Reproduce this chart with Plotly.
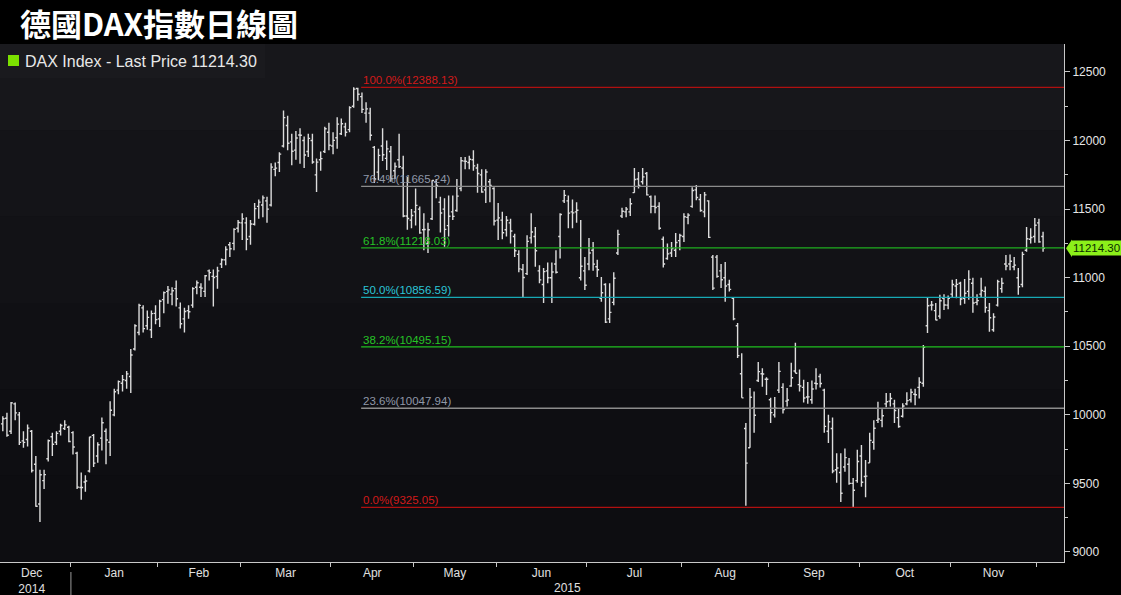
import plotly.graph_objects as go
import pandas as pd

# ---------------- DATA: (open, high, low, close) per trading day ----------------
dec14 = [(9934, 9990, 9880, 9971), (9975, 10016, 9840, 9851), (9880, 10093, 9860, 10087),
         (10080, 10090, 9960, 10014), (10000, 10020, 9780, 9799), (9810, 9880, 9760, 9799),
         (9820, 9930, 9770, 9903), (9880, 9890, 9580, 9594), (9640, 9700, 9330, 9334),
         (9350, 9600, 9219, 9563), (9520, 9600, 9460, 9564), (9680, 9820, 9660, 9811),
         (9840, 9870, 9700, 9786), (9800, 9880, 9780, 9865), (9880, 9935, 9850, 9922),
         (9900, 9960, 9890, 9927), (9910, 9920, 9800, 9806)]
jan15 = [(9870, 9880, 9710, 9765), (9720, 9730, 9460, 9473), (9470, 9580, 9380, 9470),
         (9510, 9560, 9440, 9518), (9590, 9840, 9580, 9838), (9850, 9860, 9620, 9648),
         (9700, 9800, 9650, 9782), (9830, 9980, 9740, 9942), (9880, 9900, 9640, 9817),
         (9800, 10100, 9700, 10033), (10000, 10190, 9990, 10168), (10180, 10250, 10150, 10242),
         (10230, 10290, 10170, 10257), (10250, 10320, 10190, 10299), (10280, 10480, 10160, 10436),
         (10480, 10660, 10470, 10650), (10600, 10810, 10580, 10798), (10780, 10800, 10600, 10629),
         (10650, 10760, 10620, 10711), (10620, 10760, 10560, 10738), (10740, 10800, 10660, 10694)]
feb15 = [(10700, 10840, 10640, 10828), (10840, 10900, 10740, 10891), (10900, 10940, 10810, 10911),
         (10880, 10930, 10800, 10905), (10920, 10980, 10790, 10846), (10780, 10820, 10630, 10664),
         (10700, 10780, 10600, 10753), (10760, 10800, 10700, 10752), (10800, 10930, 10780, 10920),
         (10930, 10980, 10880, 10963), (10930, 10960, 10860, 10924), (10900, 11020, 10860, 11014),
         (11050, 11060, 10980, 11037), (11010, 11060, 10790, 11001), (11010, 11080, 10920, 11050),
         (11100, 11140, 11070, 11131), (11130, 11230, 11090, 11206), (11240, 11260, 11150, 11211),
         (11250, 11360, 11200, 11352), (11360, 11420, 11330, 11402)]
mar15 = [(11400, 11470, 11275, 11429), (11400, 11440, 11200, 11280), (11300, 11420, 11240, 11391),
         (11390, 11545, 11380, 11504), (11520, 11570, 11430, 11551), (11530, 11600, 11440, 11582),
         (11560, 11590, 11400, 11500), (11530, 11835, 11520, 11806), (11790, 11840, 11740, 11799),
         (11840, 11915, 11770, 11901), (11960, 12220, 11950, 12167), (12110, 12180, 11930, 11980),
         (11990, 12050, 11820, 11922), (11930, 12070, 11860, 12019), (12040, 12090, 11830, 12039),
         (12000, 12030, 11800, 11895), (11920, 12050, 11880, 12016), (12000, 12050, 11830, 11844),
         (11750, 11870, 11625, 11843), (11860, 11920, 11780, 11868), (11920, 12100, 11910, 12086),
         (12060, 12130, 11930, 11966)]
apr15 = [(11960, 12060, 11900, 12001), (12020, 12170, 11940, 12120), (12050, 12160, 12040, 12123),
         (12100, 12130, 12030, 12060), (12080, 12250, 12060, 12240), (12250, 12388.13, 12240, 12375),
         (12380, 12385, 12290, 12338), (12320, 12350, 12200, 12227), (12200, 12280, 12130, 12231),
         (12200, 12240, 12000, 12039), (11950, 11960, 11690, 11720), (11770, 11940, 11710, 11892),
         (11960, 12090, 11850, 11896), (11870, 12000, 11785, 11939), (11920, 11960, 11700, 11723),
         (11780, 11840, 11720, 11811), (11860, 12050, 11800, 11810), (11800, 11890, 11440, 11450),
         (11450, 11735, 11350, 11432), (11420, 11500, 11360, 11454)]
may15 = [(11480, 11650, 11380, 11527), (11500, 11520, 11320, 11327), (11350, 11470, 11200, 11351),
         (11250, 11400, 11180, 11350), (11430, 11710, 11420, 11709), (11700, 11720, 11580, 11673),
         (11550, 11590, 11330, 11472), (11500, 11580, 11225, 11352), (11380, 11600, 11300, 11448),
         (11480, 11600, 11420, 11447), (11490, 11720, 11480, 11595), (11650, 11880, 11630, 11853),
         (11850, 11880, 11790, 11848), (11840, 11890, 11790, 11864), (11860, 11930, 11780, 11815),
         (11800, 11830, 11620, 11760), (11750, 11790, 11620, 11625), (11640, 11790, 11545, 11771),
         (11700, 11720, 11550, 11673), (11650, 11660, 11380, 11413)]
jun15 = [(11420, 11545, 11275, 11436), (11420, 11480, 11280, 11328), (11350, 11450, 11300, 11419),
         (11400, 11430, 11250, 11340), (11300, 11320, 11150, 11197), (11170, 11200, 11040, 11064),
         (11060, 11100, 10860, 11001), (11030, 11310, 11020, 11265), (11290, 11470, 11250, 11333),
         (11300, 11370, 11080, 11196), (11050, 11090, 10960, 10984), (10950, 11070, 10815, 11044),
         (11050, 11110, 10960, 11000), (11000, 11110, 10815, 11041), (11100, 11200, 11030, 11040),
         (11300, 11470, 11140, 11461), (11560, 11640, 11545, 11600), (11560, 11600, 11360, 11471),
         (11480, 11570, 11360, 11473), (11480, 11550, 11400, 11492), (11000, 11420, 10980, 11083),
         (11050, 11150, 10910, 10945)]
jul15 = [(11100, 11290, 11055, 11180), (11200, 11260, 11050, 11099), (11080, 11130, 11005, 11058),
         (10850, 11005, 10825, 10890), (10950, 10960, 10670, 10676), (10700, 10960, 10670, 10747),
         (10820, 11040, 10800, 10996), (11180, 11350, 11165, 11316), (11450, 11510, 11435, 11484),
         (11480, 11515, 11440, 11500), (11480, 11580, 11450, 11539), (11620, 11800, 11620, 11716),
         (11720, 11770, 11650, 11673), (11700, 11800, 11680, 11735), (11760, 11770, 11600, 11604),
         (11590, 11600, 11470, 11520), (11520, 11600, 11470, 11512), (11520, 11550, 11350, 11360),
         (11280, 11300, 11075, 11100), (11140, 11250, 11130, 11174), (11180, 11260, 11150, 11212),
         (11200, 11325, 11150, 11257), (11270, 11320, 11200, 11308)]
aug15 = [(11300, 11470, 11260, 11444), (11440, 11470, 11390, 11456), (11520, 11660, 11510, 11636),
         (11640, 11675, 11565, 11585), (11570, 11610, 11480, 11490), (11480, 11625, 11440, 11604),
         (11560, 11565, 11290, 11294), (11150, 11165, 10910, 10924), (11150, 11165, 11000, 11010),
         (11050, 11100, 10925, 10985), (11000, 11115, 10825, 10940), (10950, 10985, 10900, 10915),
         (10850, 10860, 10690, 10700), (10650, 10670, 10415, 10432), (10300, 10450, 10124, 10124),
         (9900, 9940, 9338, 9648), (9760, 10195, 9760, 10128), (10050, 10170, 9870, 9997),
         (10250, 10385, 10240, 10315), (10300, 10340, 10205, 10298), (10260, 10275, 10145, 10259)]
sep15 = [(10110, 10125, 9940, 10016), (10000, 10130, 9980, 10048), (10180, 10385, 10160, 10317),
         (10200, 10230, 10010, 10038), (10100, 10195, 10060, 10108), (10210, 10380, 10205, 10271),
         (10320, 10525, 10305, 10303), (10220, 10330, 10170, 10210), (10200, 10255, 10090, 10123),
         (10130, 10240, 10080, 10131), (10110, 10250, 10080, 10188), (10230, 10340, 10185, 10227),
         (10280, 10300, 10200, 10229), (10180, 10190, 9870, 9916), (9880, 10000, 9795, 9950),
         (9900, 9980, 9575, 9590), (9600, 9720, 9505, 9612), (9580, 9720, 9365, 9428),
         (9620, 9755, 9585, 9688), (9640, 9685, 9490, 9500), (9500, 9540, 9325.05, 9450),
         (9520, 9745, 9505, 9660)]
oct15 = [(9700, 9780, 9475, 9509), (9550, 9670, 9400, 9553), (9650, 9870, 9650, 9814),
         (9800, 9960, 9745, 9902), (9960, 10095, 9940, 9970), (9960, 10040, 9910, 9993),
         (10080, 10160, 10055, 10096), (10100, 10160, 10060, 10119), (10080, 10110, 9940, 10032),
         (9980, 10050, 9905, 9915), (9990, 10085, 9980, 10064), (10080, 10165, 10070, 10104),
         (10110, 10190, 10090, 10165), (10150, 10190, 10070, 10147), (10200, 10275, 10120, 10238),
         (10230, 10510, 10205, 10492), (10650, 10860, 10597, 10795), (10800, 10830, 10760, 10801),
         (10760, 10815, 10690, 10692), (10720, 10875, 10700, 10832), (10850, 10880, 10765, 10801),
         (10800, 10870, 10770, 10850)]
nov15 = [(10880, 10985, 10860, 10950), (10940, 10990, 10850, 10951), (10960, 10970, 10800, 10845),
         (10850, 10990, 10810, 10887), (10900, 11055, 10840, 10988), (10960, 11000, 10745, 10815),
         (10820, 10880, 10800, 10833), (10880, 11000, 10860, 10907), (10900, 10935, 10745, 10783),
         (10760, 10815, 10605, 10708), (10620, 10740, 10605, 10713), (10800, 10985, 10790, 10971),
         (10920, 11000, 10890, 10960), (11100, 11165, 11055, 11085), (11100, 11170, 11055, 11120),
         (11080, 11150, 11055, 11092), (11000, 11070, 10875, 10934), (10950, 11190, 10930, 11170),
         (11200, 11370, 11190, 11284), (11280, 11360, 11250, 11293), (11300, 11435, 11255, 11382)]
dec15 = [(11400, 11430, 11255, 11261), (11300, 11335, 11190, 11214.30)]

holidays = ["2014-12-24", "2014-12-25", "2014-12-26", "2014-12-31",
            "2015-01-01", "2015-04-03", "2015-04-06", "2015-05-01"]

fib_pct = [100.0, 76.4, 61.8, 50.0, 38.2, 23.6, 0.0]
fib_val = [12388.13, 11665.24, 11218.03, 10856.59, 10495.15, 10047.94, 9325.05]
fib_line_color = ["#b01010", "#8c8c8c", "#1fae1f", "#17a9b5", "#1fbf1f", "#8c8c8c", "#b01010"]
fib_text_color = ["#d21a1a", "#9098a8", "#26c426", "#2cc6d6", "#26c426", "#9098a8", "#d21a1a"]

last_price = 11214.30
y_ticks = [9000, 9500, 10000, 10500, 11000, 11500, 12000, 12500]

# ---------------- build ----------------
months = [dec14, jan15, feb15, mar15, apr15, may15, jun15, jul15, aug15, sep15, oct15, nov15, dec15]
rows = [r for m in months for r in m]
dates = [d for d in pd.bdate_range("2014-12-03", "2015-12-02")
         if d.strftime("%Y-%m-%d") not in holidays]
assert len(dates) == len(rows), (len(dates), len(rows))
idx = list(range(len(rows)))
o = [r[0] for r in rows]
h = [r[1] for r in rows]
l = [r[2] for r in rows]
c = [r[3] for r in rows]

xmin, xmax = -0.68, 257.07
ymin, ymax = 8927, 12704

# month ticks
df = pd.DataFrame({"i": idx, "d": dates})
df["ym"] = df["d"].dt.strftime("%Y-%m")
groups = df.groupby("ym")["i"]
month_first = groups.min()
month_last = groups.max()
tickvals, ticktext, bounds = [], [], []
for ym in month_first.index:
    f, la = month_first[ym], month_last[ym]
    if f > 0:
        bounds.append(f - 0.5)
    if ym == "2015-12":
        continue
    lo = max(f - 0.5, xmin)
    mid = (lo + la + 0.5) / 2
    if ym == "2014-12":
        mid -= 1.0
    name = pd.Timestamp(ym + "-01").strftime("%b")
    tickvals.append(mid)
    ticktext.append(name + ("<br>2014" if ym == "2014-12" else ""))

fig = go.Figure()

# subtle background gradient
bands = ["#17171b", "#141418", "#121216", "#101014", "#0e0e12", "#0d0d11"]
for k, col in enumerate(bands):
    fig.add_shape(type="rect", xref="paper", yref="paper", x0=0, x1=1,
                  y0=1 - (k + 1) / len(bands), y1=1 - k / len(bands),
                  fillcolor=col, line_width=0, layer="below")

fig.add_trace(go.Ohlc(x=idx, open=o, high=h, low=l, close=c,
                      increasing_line_color="#dcdcdc", decreasing_line_color="#dcdcdc",
                      line_width=1.4, tickwidth=0.45, hoverinfo="skip",
                      showlegend=False))

# fibonacci lines
hi_i = h.index(max(h))
fib_x0 = hi_i + 1.8
for p, v, lc, tc in zip(fib_pct, fib_val, fib_line_color, fib_text_color):
    fig.add_shape(type="line", xref="x", yref="y", x0=fib_x0, x1=xmax, y0=v, y1=v,
                  line=dict(color=lc, width=1.3))
    fig.add_annotation(x=fib_x0, y=v, xref="x", yref="y", xanchor="left", yanchor="bottom",
                       text=f"{p:.1f}%({v:.2f})", showarrow=False, yshift=-1,
                       font=dict(family="Liberation Sans, Arial", size=11.5, color=tc))

W, H = 1121, 595
ml, mr, mt, mb = 0, 57, 44, 33
pw, ph = W - ml - mr, H - mt - mb

def px(xp):
    return xp / pw

def py(yp):
    return 1 - (yp - mt) / ph

# legend box
fig.add_shape(type="rect", xref="paper", yref="paper", x0=0, x1=px(265), y0=py(78), y1=py(44),
              fillcolor="#1a1a1e", line_width=0)
fig.add_shape(type="rect", xref="paper", yref="paper", x0=px(8), x1=px(19), y0=py(66), y1=py(55),
              fillcolor="#7be000", line_width=0)
fig.add_annotation(xref="paper", yref="paper", x=px(23), y=py(61), xanchor="left", yanchor="middle",
                   text=f"DAX Index - Last Price {last_price:.2f}", showarrow=False,
                   font=dict(family="Liberation Sans, Arial", size=16, color="#e8e8e8"))

# title
fig.add_annotation(xref="paper", yref="paper", x=px(18), y=py(22), xanchor="left", yanchor="middle",
                   text="<b>德國DAX指數日線圖</b>", showarrow=False,
                   font=dict(family="Noto Sans CJK TC", size=31, color="#ffffff"))

# last price tag
fig.add_shape(type="path", xref="paper", yref="y",
              path=f"M {1 + px(2)} {last_price} L {1 + px(8)} {last_price + 65} "
                   f"L {1 + px(8)} {last_price - 65} Z",
              fillcolor="#8cf01a", line_width=0)
fig.add_annotation(xref="paper", yref="y", x=1 + px(7), y=last_price, xanchor="left",
                   yanchor="middle", text=f"{last_price:.2f}", showarrow=False,
                   bgcolor="#8cf01a", borderpad=1,
                   font=dict(family="Liberation Sans, Arial", size=11.5, color="#0a2a00"))

# year label 2015 + separator
fig.add_annotation(xref="paper", yref="paper", x=px(567), y=py(588), xanchor="center",
                   yanchor="middle", text="2015", showarrow=False,
                   font=dict(family="Liberation Sans, Arial", size=12, color="#e0e0e0"))
fig.add_shape(type="line", xref="x", yref="paper", x0=bounds[0], x1=bounds[0],
              y0=py(572), y1=py(595), line=dict(color="#9a9a9a", width=1))

fig.update_layout(
    width=W, height=H,
    margin=dict(l=ml, r=mr, t=mt, b=mb),
    paper_bgcolor="#000000", plot_bgcolor="#0f0f13",
    showlegend=False,
    xaxis=dict(range=[xmin, xmax], rangeslider=dict(visible=False),
               tickmode="array", tickvals=tickvals, ticktext=ticktext, ticks="",
               showgrid=False, zeroline=False, showline=True, linecolor="#c8c8c8", linewidth=1,
               tickfont=dict(family="Liberation Sans, Arial", size=12, color="#e0e0e0"),
               minor=dict(tickmode="array", tickvals=bounds, ticks="outside", ticklen=4,
                          tickcolor="#c8c8c8", showgrid=False)),
    yaxis=dict(range=[ymin, ymax], side="right", tickmode="array", tickvals=y_ticks,
               tickformat="d",
               ticks="outside", ticklen=5, tickcolor="#c8c8c8",
               showgrid=False, zeroline=False, showline=True, linecolor="#c8c8c8", linewidth=1,
               tickfont=dict(family="Liberation Sans, Arial", size=12, color="#e6e6e6"),
               minor=dict(dtick=250, ticks="outside", ticklen=3, tickcolor="#c8c8c8",
                          showgrid=False)),
)

fig.write_html("out.html", config={"displayModeBar": False},
               post_script="document.body.style.margin='0';document.body.style.background='#000';")
